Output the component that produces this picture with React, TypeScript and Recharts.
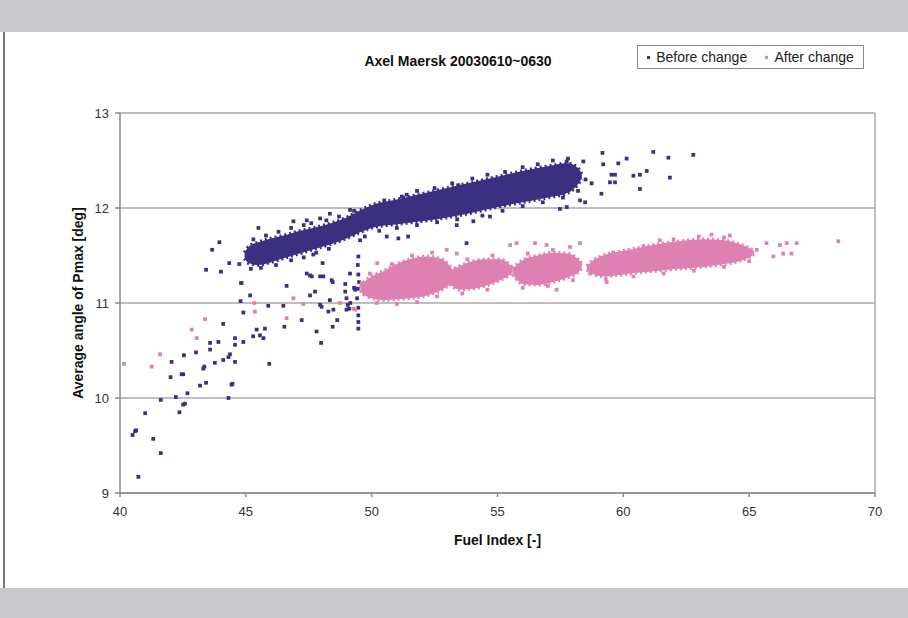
import React from "react"
import {
  ComposedChart,
  Area,
  Scatter,
  XAxis,
  YAxis,
  ZAxis,
  CartesianGrid,
  ReferenceLine,
} from "recharts"

const PURPLE = "#3b3080"
const PINK = "#df80b3"
const FONT = "'Liberation Sans Narrow', 'Liberation Sans', Arial, sans-serif"

const xTicks = [40, 45, 50, 55, 60, 65, 70]
const yTicks = [9, 10, 11, 12, 13]
const seriesNames = ["Before change", "After change"]

// dense core of the "before" cloud: [fuel index, low, high]
const beforeCore: [number, number, number][] = [
  [44.95, 11.47, 11.53],
  [45.1, 11.42, 11.59],
  [45.5, 11.4, 11.64],
  [46.0, 11.43, 11.68],
  [46.5, 11.47, 11.71],
  [47.0, 11.51, 11.75],
  [47.5, 11.55, 11.78],
  [48.0, 11.59, 11.81],
  [48.5, 11.63, 11.85],
  [49.0, 11.68, 11.9],
  [49.5, 11.74, 11.97],
  [50.0, 11.79, 12.03],
  [51.0, 11.83, 12.09],
  [52.0, 11.86, 12.15],
  [53.0, 11.9, 12.21],
  [54.0, 11.95, 12.27],
  [55.0, 12.01, 12.33],
  [56.0, 12.06, 12.39],
  [57.0, 12.11, 12.44],
  [57.8, 12.16, 12.47],
  [58.2, 12.25, 12.42],
  [58.35, 12.31, 12.36],
]

// dense blobs of the "after" cloud
const afterBlob1: [number, number, number][] = [
  [49.55, 11.13, 11.17],
  [49.7, 11.09, 11.22],
  [50.0, 11.05, 11.28],
  [50.5, 11.03, 11.34],
  [51.0, 11.04, 11.41],
  [51.5, 11.05, 11.46],
  [52.2, 11.08, 11.49],
  [52.8, 11.14, 11.46],
  [53.2, 11.21, 11.36],
]
const afterBlob2: [number, number, number][] = [
  [53.1, 11.2, 11.34],
  [53.5, 11.14, 11.39],
  [54.0, 11.15, 11.44],
  [54.5, 11.18, 11.46],
  [55.1, 11.24, 11.46],
  [55.5, 11.3, 11.4],
  [55.6, 11.33, 11.37],
]
const afterBlob3: [number, number, number][] = [
  [55.6, 11.3, 11.36],
  [55.75, 11.25, 11.4],
  [56.0, 11.2, 11.45],
  [56.6, 11.19, 11.5],
  [57.2, 11.22, 11.53],
  [57.8, 11.27, 11.52],
  [58.2, 11.32, 11.46],
  [58.35, 11.37, 11.42],
]
const afterBlob4: [number, number, number][] = [
  [58.55, 11.35, 11.39],
  [58.75, 11.31, 11.44],
  [59.2, 11.28, 11.5],
  [60.0, 11.3, 11.55],
  [60.6, 11.32, 11.58],
  [61.4, 11.34, 11.62],
  [62.2, 11.36, 11.65],
  [63.2, 11.38, 11.67],
  [64.0, 11.41, 11.66],
  [64.6, 11.44, 11.62],
  [65.0, 11.48, 11.58],
  [65.2, 11.51, 11.55],
]

const beforePoints: [number, number][] = [
  [43.95, 11.64], [43.66, 11.56], [43.42, 11.35], [44.01, 11.33], [44.34, 11.42],
  [44.74, 11.41], [44.81, 11.21], [45.17, 11.08], [44.79, 11.02], [44.9, 10.9],
  [45.89, 10.97], [46.49, 10.97], [46.62, 11.18], [47.22, 10.82], [46.53, 10.75],
  [45.43, 10.72], [45.56, 10.66], [45.29, 10.65], [45.76, 10.73], [45.7, 10.63],
  [44.57, 10.63], [44.57, 10.56], [44.9, 10.59], [44.1, 10.78], [43.91, 10.59],
  [43.58, 10.58], [43.58, 10.51], [43.02, 10.48], [44.31, 10.43], [44.37, 10.46],
  [44.1, 10.4], [43.77, 10.37], [44.57, 10.38], [42.54, 10.45], [42.05, 10.38],
  [42.45, 10.25], [42.51, 10.25], [42.01, 10.22], [43.35, 10.33], [43.31, 10.31],
  [43.42, 10.16], [43.18, 10.13], [44.47, 10.15], [44.43, 10.14], [45.93, 10.36],
  [42.68, 10.05], [42.22, 10.01], [41.62, 9.98], [42.58, 9.94], [42.51, 9.93],
  [42.36, 9.85], [44.31, 10.0], [41.0, 9.84], [40.6, 9.65], [40.5, 9.61],
  [40.64, 9.66], [41.32, 9.57], [41.62, 9.42], [40.73, 9.17],
  [47.55, 11.29], [47.62, 11.28], [48.05, 11.42], [48.08, 11.28], [48.45, 11.22],
  [47.75, 11.12], [47.55, 11.08], [48.01, 10.96], [47.95, 10.98], [48.34, 11.03],
  [47.81, 10.7], [47.99, 10.58], [48.45, 10.75], [48.63, 10.82], [48.28, 10.91],
  [48.48, 10.93], [48.95, 11.2], [48.95, 11.12], [49.0, 11.05], [49.05, 10.98],
  [49.1, 10.94], [49.15, 11.0], [49.0, 10.93], [49.47, 11.49], [49.45, 11.4],
  [49.47, 11.3], [49.5, 11.22], [49.45, 11.15], [49.42, 11.05], [49.47, 10.95],
  [49.47, 10.87], [49.47, 10.8], [49.47, 10.73], [49.34, 11.14], [49.3, 11.16],
  [49.14, 11.31], [45.5, 11.79], [46.89, 11.86], [47.42, 11.87], [47.95, 11.89],
  [48.34, 11.94], [49.14, 11.98], [51.39, 12.14], [50.6, 11.7], [51.06, 11.68],
  [51.45, 11.7], [53.77, 11.63], [54.04, 11.86], [54.7, 11.91], [53.38, 11.82],
  [49.73, 11.7], [49.54, 11.66], [48.48, 11.8], [48.74, 11.79], [49.27, 11.73],
  [47.68, 11.51], [47.42, 11.31], [47.95, 11.28], [48.41, 11.24], [44.83, 11.21],
  [59.17, 12.58], [60.13, 12.52], [61.19, 12.59], [61.79, 12.53], [62.78, 12.56],
  [60.93, 12.39], [61.85, 12.32], [60.66, 12.2], [60.4, 12.34], [60.66, 12.35],
  [59.53, 12.35], [59.67, 12.35], [59.47, 12.27], [59.67, 12.27], [59.13, 12.15],
  [59.8, 12.47], [59.2, 12.46], [58.74, 12.26], [58.28, 12.08], [58.48, 12.06],
  [57.75, 12.01], [57.48, 11.99], [53.44, 12.24], [57.75, 12.49], [58.41, 12.49],
  // ragged edges of the dense band
  [45.2, 11.36], [45.6, 11.37], [46.2, 11.4], [46.8, 11.45], [47.3, 11.48],
  [47.8, 11.53], [48.3, 11.57], [45.3, 11.67], [45.8, 11.71], [46.3, 11.75],
  [46.8, 11.79], [47.3, 11.82], [47.6, 11.84], [48.2, 11.87], [48.7, 11.91],
  [49.3, 11.97], [50.5, 12.08], [51.2, 12.12], [51.8, 12.18], [52.5, 12.21],
  [53.2, 12.26], [54.0, 12.31], [54.6, 12.35], [55.3, 12.38], [56.0, 12.43],
  [56.6, 12.46], [57.2, 12.5], [57.8, 12.52], [50.3, 11.76], [51.0, 11.79],
  [51.8, 11.82], [52.6, 11.85], [53.4, 11.88], [54.4, 11.92], [55.2, 11.97],
  [56.0, 12.02], [56.8, 12.06], [57.6, 12.11], [58.2, 12.18], [58.5, 12.3],
]

const afterPoints: [number, number][] = [
  [40.16, 10.36], [41.26, 10.33], [41.59, 10.46], [42.85, 10.72], [43.05, 10.63],
  [43.38, 10.83], [45.34, 11.0], [45.36, 10.91], [46.89, 11.05], [47.28, 10.99],
  [46.62, 10.84], [48.74, 11.0], [49.27, 10.94], [49.34, 10.93], [49.93, 11.31],
  [50.22, 11.42], [52.98, 11.56], [53.38, 11.52], [55.5, 11.61], [55.76, 11.63],
  [56.49, 11.63], [56.95, 11.61], [57.88, 11.59], [58.28, 11.63], [57.35, 11.14],
  [61.45, 11.66], [63.5, 11.72], [64.23, 11.71], [65.69, 11.63], [66.22, 11.61],
  [66.49, 11.63], [66.89, 11.63], [66.35, 11.52], [66.68, 11.52], [65.96, 11.49],
  [68.54, 11.65], [59.34, 11.22], [58.68, 11.31],
  // ragged edges of the blobs
  [50.8, 11.41], [51.6, 11.5], [52.4, 11.53], [50.2, 11.0], [51.0, 10.99],
  [51.8, 11.01], [52.6, 11.07], [49.7, 11.1], [49.6, 11.21], [53.8, 11.46],
  [54.8, 11.5], [53.6, 11.1], [54.6, 11.14], [56.2, 11.52], [57.2, 11.56],
  [56.0, 11.16], [57.0, 11.18], [58.0, 11.24], [59.6, 11.53], [60.8, 11.6],
  [62.0, 11.67], [63.0, 11.7], [64.0, 11.69], [59.3, 11.25], [60.4, 11.28],
  [61.6, 11.31], [62.8, 11.34], [64.0, 11.38], [65.0, 11.44], [65.3, 11.56],
]

const toBand = (rows: [number, number, number][]) =>
  rows.map(([x, lo, hi]) => ({ x, range: [lo, hi] }))
const toPts = (rows: [number, number][]) => rows.map(([x, y]) => ({ x, y }))

const bands = [
  { data: toBand(beforeCore), color: PURPLE },
  { data: toBand(afterBlob1), color: PINK },
  { data: toBand(afterBlob2), color: PINK },
  { data: toBand(afterBlob3), color: PINK },
  { data: toBand(afterBlob4), color: PINK },
]

const tick = { fontSize: 13, fill: "#333", fontFamily: FONT }
const axisLabel = { fontSize: 14, fontWeight: 700, fill: "#111", fontFamily: FONT }

export default function App() {
  return (
    <div
      style={{
        position: "fixed",
        top: 0,
        left: 0,
        width: 908,
        height: 618,
        background: "#fff",
        overflow: "hidden",
      }}
    >
      <div style={{ position: "absolute", top: 0, left: 0, width: 908, height: 32, background: "#c9c9cb" }} />
      <div style={{ position: "absolute", top: 588, left: 0, width: 908, height: 30, background: "#c9c9cb" }} />
      <div style={{ position: "absolute", top: 32, left: 3, width: 2, height: 556, background: "#7a7a7a" }} />

      <div
        style={{
          position: "absolute",
          top: 53,
          left: 0,
          width: 916,
          textAlign: "center",
          fontFamily: FONT,
          fontWeight: 700,
          fontSize: 14,
          color: "#111",
        }}
      >
        Axel Maersk 20030610~0630
      </div>

      <div
        style={{
          position: "absolute",
          top: 45,
          left: 637,
          width: 227,
          height: 24,
          border: "1px solid #888",
          display: "flex",
          alignItems: "center",
          justifyContent: "space-around",
          fontFamily: FONT,
          fontSize: 14,
          color: "#222",
          boxSizing: "border-box",
        }}
      >
        {seriesNames.map((name, i) => (
          <span key={name} style={{ display: "flex", alignItems: "center", gap: 6 }}>
            <span style={{ width: 3, height: 3, background: i === 0 ? PURPLE : PINK }} />
            {name}
          </span>
        ))}
      </div>

      <div style={{ position: "absolute", top: 0, left: 0 }}>
        <ComposedChart width={908} height={618} margin={{ top: 113, right: 33, bottom: 65, left: 50 }}>
          <CartesianGrid horizontal vertical={false} stroke="#a9a9a9" strokeWidth={1.5} />
          <XAxis
            type="number"
            dataKey="x"
            domain={[40, 70]}
            ticks={xTicks}
            allowDataOverflow
            height={60}
            tick={tick}
            tickSize={4}
            tickMargin={10}
            stroke="#8a8a8a"
            strokeWidth={1.5}
            label={{ value: "Fuel Index [-]", position: "insideBottom", offset: 8, style: axisLabel }}
          />
          <YAxis
            type="number"
            domain={[9, 13]}
            ticks={yTicks}
            allowDataOverflow
            width={70}
            tick={tick}
            tickSize={5}
            tickMargin={6}
            stroke="#8a8a8a"
            strokeWidth={1.5}
            label={{
              value: "Average angle of Pmax [deg]",
              angle: -90,
              position: "insideLeft",
              offset: 28,
              style: { ...axisLabel, textAnchor: "middle" },
            }}
          />
          <ZAxis type="number" range={[14, 14]} />
          <ReferenceLine x={70} stroke="#a9a9a9" strokeWidth={1.5} />
          {bands.map((b, i) => (
            <Area
              key={i}
              data={b.data}
              dataKey="range"
              type="monotone"
              fill={b.color}
              fillOpacity={1}
              stroke={b.color}
              strokeWidth={3.5}
              strokeDasharray="2 3"
              legendType="none"
              dot={false}
              activeDot={false}
              isAnimationActive={false}
            />
          ))}
          <Scatter
            name={seriesNames[0]}
            data={toPts(beforePoints)}
            dataKey="y"
            fill={PURPLE}
            shape="square"
            isAnimationActive={false}
          />
          <Scatter
            name={seriesNames[1]}
            data={toPts(afterPoints)}
            dataKey="y"
            fill={PINK}
            shape="square"
            isAnimationActive={false}
          />
        </ComposedChart>
      </div>
    </div>
  )
}
